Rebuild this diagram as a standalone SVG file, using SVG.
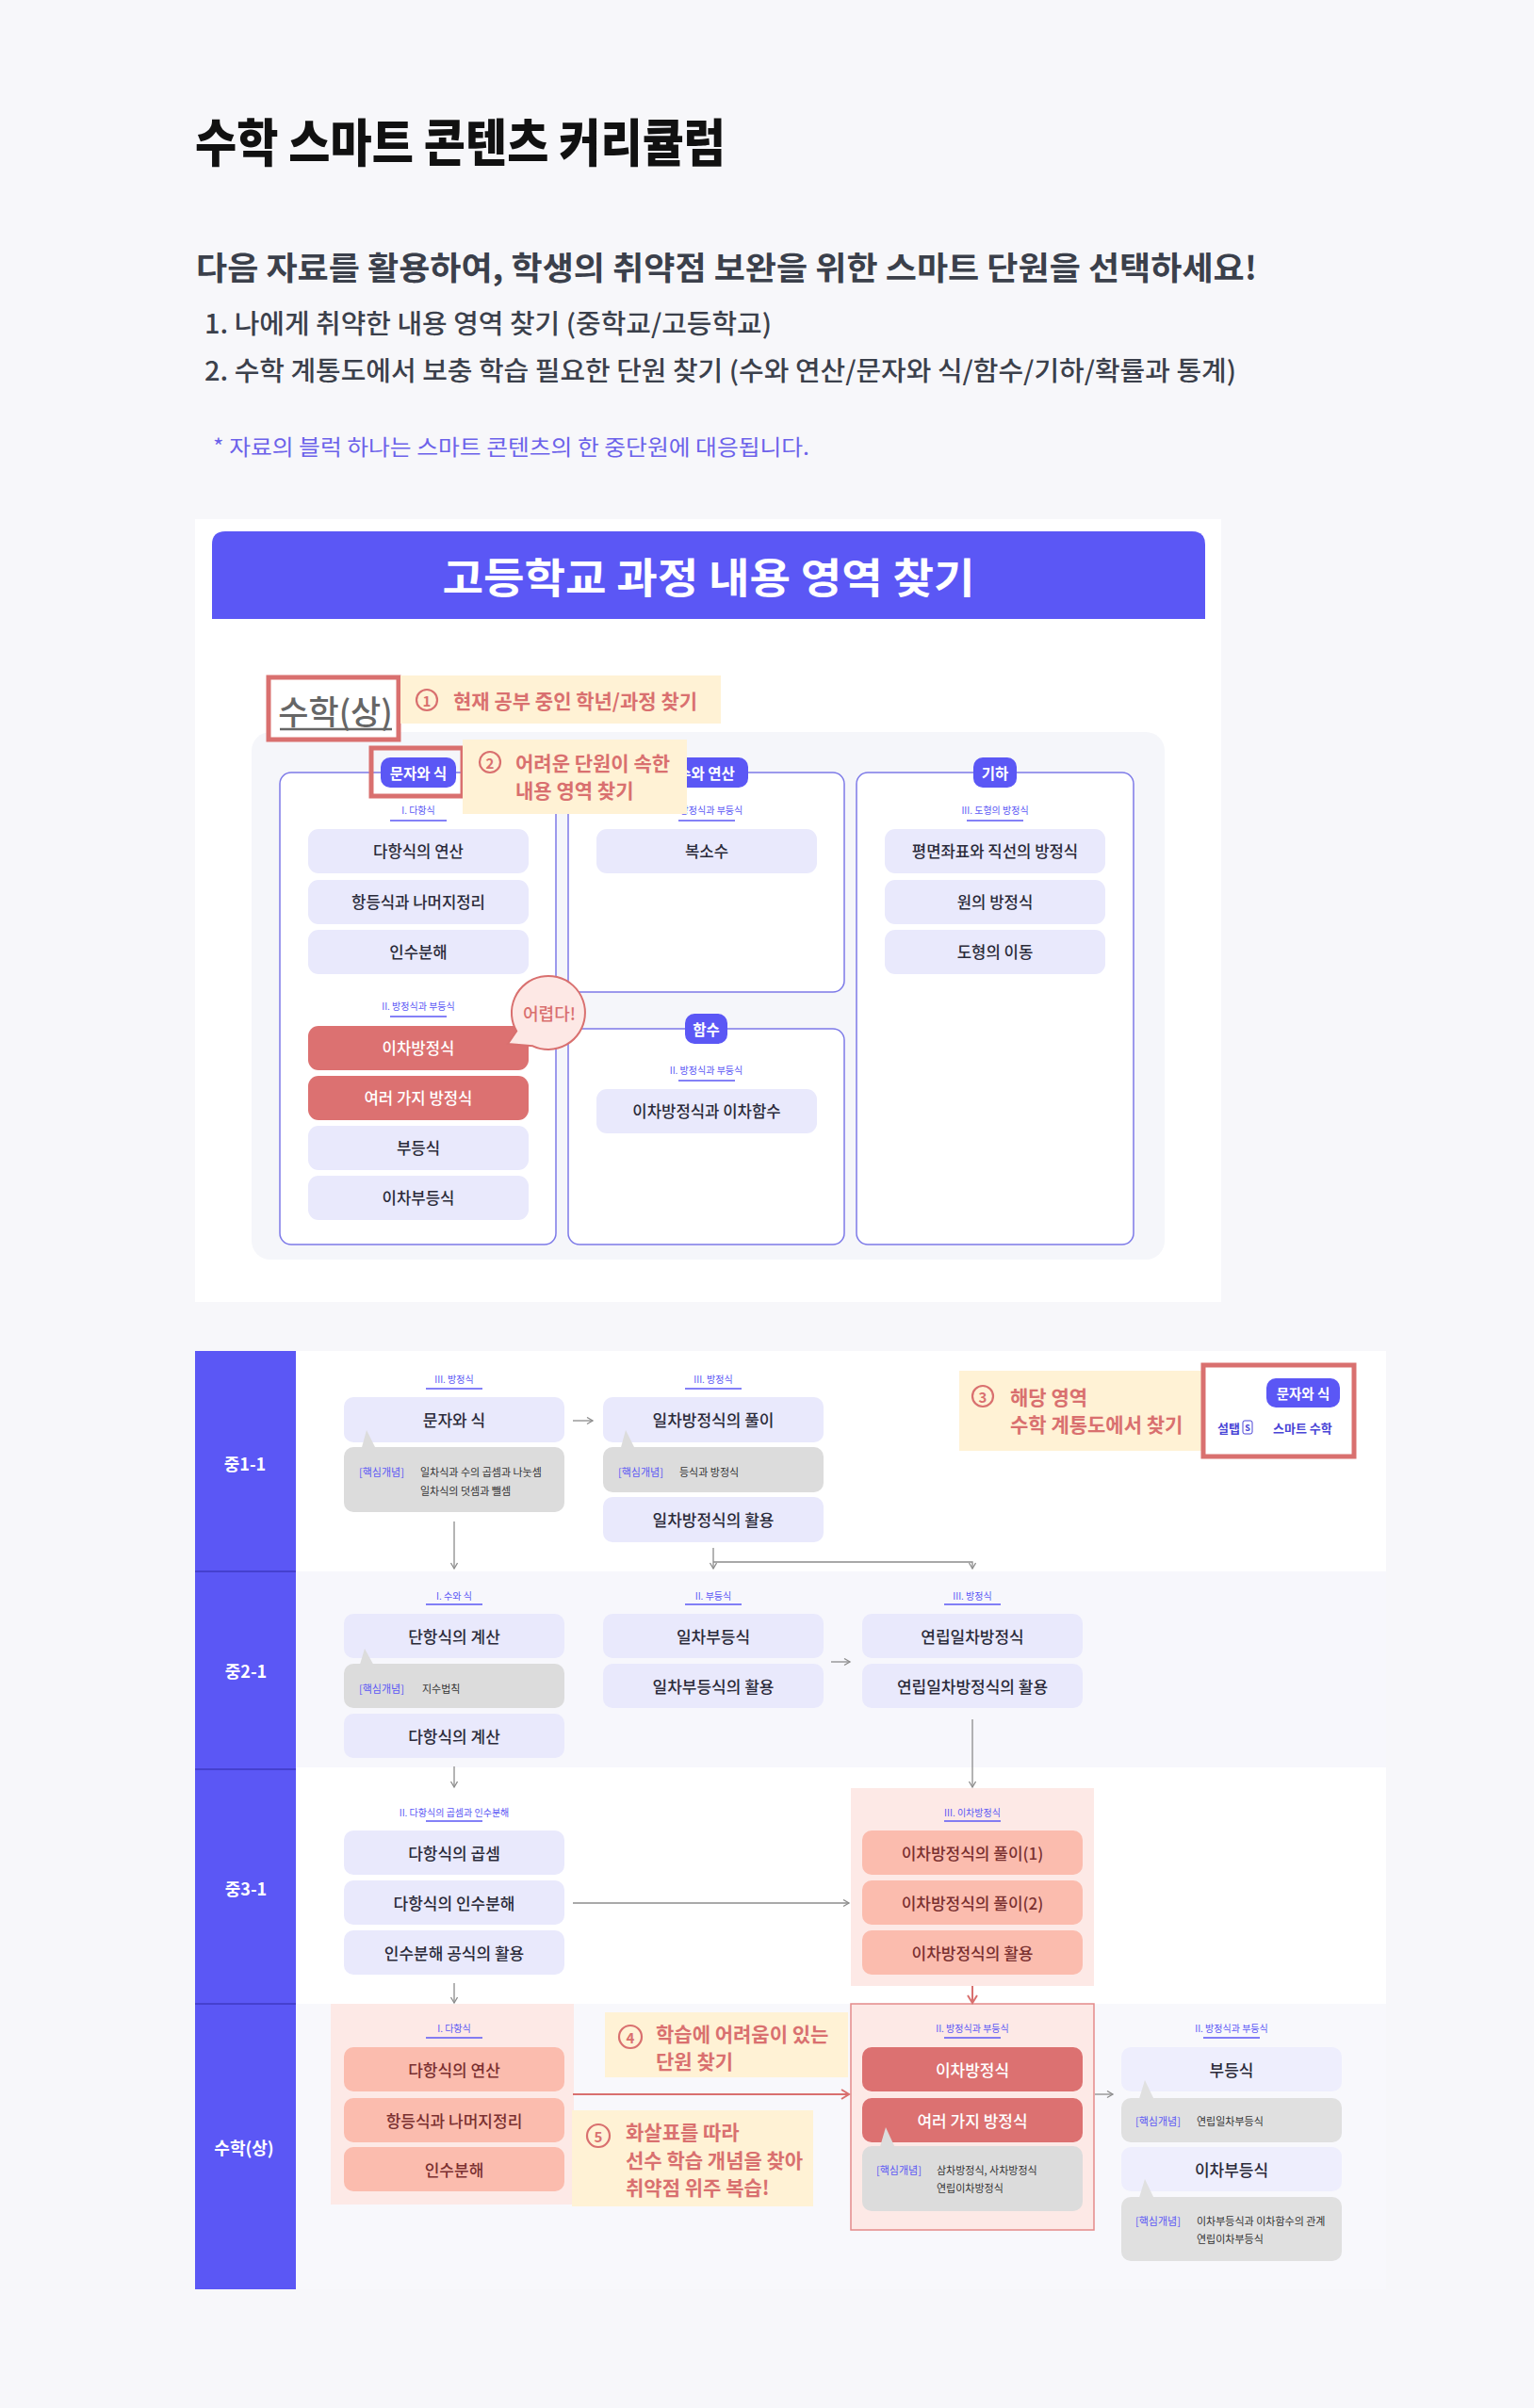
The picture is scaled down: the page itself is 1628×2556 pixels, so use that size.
<svg xmlns="http://www.w3.org/2000/svg" width="1628" height="2556" viewBox="0 0 1628 2556">
<defs>
<style>
text{font-family:"Noto Sans CJK KR","Noto Sans",sans-serif;}
.it{fill:#e9e9fc}
.itd{fill:#eeeefd}
.red{fill:#dc7171}
.sal{fill:#fbbcae}
.gr{fill:#dcdcdc}
.grd{fill:#e0e0e0}
.cream{fill:#fff2d5}
.tx{font-size:17px;fill:#2b2b3a;text-anchor:middle;dominant-baseline:central;font-weight:500}
.txh{font-size:16.7px;fill:#2b2b3a;text-anchor:middle;dominant-baseline:central;font-weight:500}
.txw{fill:#ffffff}
.txs{fill:#7a3030}
.sub{font-size:10px;fill:#5b57f5;text-anchor:middle;dominant-baseline:central}
.ul{stroke:#5b57f5;stroke-width:1.5}
.kc{font-size:11px;fill:#5b57f5;dominant-baseline:central}
.kt{font-size:11px;fill:#333333;dominant-baseline:central}
.col{fill:#ffffff;stroke:#7d7ae8;stroke-width:1.5}
.pill{fill:#5b57f5}
.pt{font-size:15.5px;fill:#ffffff;font-weight:700;text-anchor:middle;dominant-baseline:central}
.co{font-size:21px;fill:#d9706f;font-weight:600;dominant-baseline:central}
.num{fill:none;stroke:#d9706f;stroke-width:2.2}
.numt{font-size:15px;fill:#d9706f;font-weight:600;text-anchor:middle;dominant-baseline:central}
.hl{fill:none;stroke:#d9706f;stroke-width:5}
.cn{fill:none;stroke:#8c8c8c;stroke-width:1.3}
.cnr{fill:none;stroke:#d9706f;stroke-width:2}
.lab{font-size:18px;fill:#ffffff;font-weight:700;text-anchor:middle;dominant-baseline:central}
</style>
<marker id="ag" markerWidth="10" markerHeight="10" refX="7" refY="4" orient="auto" markerUnits="userSpaceOnUse"><path d="M1,0.5 L7,4 L1,7.5" fill="none" stroke="#8c8c8c" stroke-width="1.3"/></marker>
<marker id="ar" markerWidth="14" markerHeight="14" refX="9" refY="6" orient="auto" markerUnits="userSpaceOnUse"><path d="M1,1 L9,6 L1,11" fill="none" stroke="#d9706f" stroke-width="2"/></marker>
</defs>

<rect x="0" y="0" width="1628" height="2556" fill="#f7f7fa"/>

<!-- Header texts -->
<g id="header">
<text x="207" y="148" font-size="54" font-weight="900" fill="#111111" dominant-baseline="central" textLength="563" lengthAdjust="spacingAndGlyphs">수학 스마트 콘텐츠 커리큘럼</text>
<text x="208" y="282" font-size="34" font-weight="700" fill="#3b404b" dominant-baseline="central" textLength="1126" lengthAdjust="spacingAndGlyphs">다음 자료를 활용하여, 학생의 취약점 보완을 위한 스마트 단원을 선택하세요!</text>
<text x="217" y="342" font-size="28" font-weight="500" fill="#3b404b" dominant-baseline="central" textLength="602" lengthAdjust="spacingAndGlyphs">1. 나에게 취약한 내용 영역 찾기 (중학교/고등학교)</text>
<text x="217" y="392" font-size="28" font-weight="500" fill="#3b404b" dominant-baseline="central" textLength="1095" lengthAdjust="spacingAndGlyphs">2. 수학 계통도에서 보충 학습 필요한 단원 찾기 (수와 연산/문자와 식/함수/기하/확률과 통계)</text>
<text x="226" y="473" font-size="23" font-weight="400" fill="#6c62ea" dominant-baseline="central" textLength="633" lengthAdjust="spacingAndGlyphs">* 자료의 블럭 하나는 스마트 콘텐츠의 한 중단원에 대응됩니다.</text>
</g>

<!-- High school card -->
<g id="hs-card">
<rect x="207" y="551" width="1089" height="831" fill="#ffffff"/>
<path d="M225,657 L225,578 Q225,564 239,564 L1265,564 Q1279,564 1279,578 L1279,657 Z" fill="#5b57f5"/>
<text x="752" y="611" font-size="44" font-weight="700" fill="#ffffff" text-anchor="middle" dominant-baseline="central" textLength="565" lengthAdjust="spacingAndGlyphs">고등학교 과정 내용 영역 찾기</text>
<rect x="267" y="777" width="969" height="560" rx="20" fill="#f5f6fa"/>
</g>

<g id="hs-grade">
<rect x="285" y="719" width="138" height="66" fill="#ffffff"/>
<rect x="285" y="719" width="138" height="66" class="hl"/>
<text x="356" y="753" font-size="35" font-weight="500" fill="#666666" text-anchor="middle" dominant-baseline="central">수학(상)</text>
<line x1="297" y1="774" x2="416" y2="774" stroke="#666666" stroke-width="2.5"/>
</g>

<g id="callout1">
<rect x="425" y="717" width="340" height="51" class="cream"/>
<circle cx="453" cy="743" r="11" class="num"/>
<text x="453" y="743" class="numt">1</text>
<text x="481" y="743" class="co">현재 공부 중인 학년/과정 찾기</text>
</g>

<!-- Column 1: 문자와 식 -->
<g id="hs-col1">
<rect x="297" y="820" width="293" height="501" rx="12" class="col"/>
<rect x="404" y="804" width="80" height="32" rx="10" class="pill"/>
<text x="444" y="820" class="pt">문자와 식</text>
<text x="444" y="859" class="sub">I. 다항식</text>
<line x1="414" y1="871" x2="474" y2="871" class="ul"/>
<rect x="327" y="880" width="234" height="47" rx="11" class="it"/>
<text x="444" y="903" class="txh">다항식의 연산</text>
<rect x="327" y="934" width="234" height="47" rx="11" class="it"/>
<text x="444" y="957" class="txh">항등식과 나머지정리</text>
<rect x="327" y="987" width="234" height="47" rx="11" class="it"/>
<text x="444" y="1010" class="txh">인수분해</text>
<text x="444" y="1067" class="sub">II. 방정식과 부등식</text>
<line x1="414" y1="1079" x2="474" y2="1079" class="ul"/>
<rect x="327" y="1089" width="234" height="47" rx="11" class="red"/>
<text x="444" y="1112" class="txh txw">이차방정식</text>
<rect x="327" y="1142" width="234" height="47" rx="11" class="red"/>
<text x="444" y="1165" class="txh txw">여러 가지 방정식</text>
<rect x="327" y="1195" width="234" height="47" rx="11" class="it"/>
<text x="444" y="1218" class="txh">부등식</text>
<rect x="327" y="1248" width="234" height="47" rx="11" class="it"/>
<text x="444" y="1271" class="txh">이차부등식</text>
</g>

<!-- Column 2 top: 수와 연산 -->
<g id="hs-col2">
<rect x="603" y="820" width="293" height="233" rx="12" class="col"/>
<rect x="705" y="804" width="89" height="32" rx="10" class="pill"/>
<text x="749.5" y="820" class="pt">수와 연산</text>
<text x="749.5" y="859" class="sub">II. 방정식과 부등식</text>
<line x1="720" y1="871" x2="780" y2="871" class="ul"/>
<rect x="633" y="880" width="234" height="47" rx="11" class="it"/>
<text x="750" y="903" class="txh">복소수</text>
</g>

<!-- Column 2 bottom: 함수 -->
<g id="hs-col2b">
<rect x="603" y="1092" width="293" height="229" rx="12" class="col"/>
<rect x="727" y="1076" width="45" height="32" rx="10" class="pill"/>
<text x="749.5" y="1092" class="pt">함수</text>
<text x="749.5" y="1135" class="sub">II. 방정식과 부등식</text>
<line x1="720" y1="1147" x2="780" y2="1147" class="ul"/>
<rect x="633" y="1156" width="234" height="47" rx="11" class="it"/>
<text x="750" y="1179" class="txh">이차방정식과 이차함수</text>
</g>

<!-- Column 3: 기하 -->
<g id="hs-col3">
<rect x="909" y="820" width="294" height="501" rx="12" class="col"/>
<rect x="1033" y="804" width="46" height="32" rx="10" class="pill"/>
<text x="1056" y="820" class="pt">기하</text>
<text x="1056" y="859" class="sub">III. 도형의 방정식</text>
<line x1="1026" y1="871" x2="1086" y2="871" class="ul"/>
<rect x="939" y="880" width="234" height="47" rx="11" class="it"/>
<text x="1056" y="903" class="txh">평면좌표와 직선의 방정식</text>
<rect x="939" y="934" width="234" height="47" rx="11" class="it"/>
<text x="1056" y="957" class="txh">원의 방정식</text>
<rect x="939" y="987" width="234" height="47" rx="11" class="it"/>
<text x="1056" y="1010" class="txh">도형의 이동</text>
</g>

<g id="hs-highlight-area">
<rect x="394" y="794" width="97" height="51" class="hl"/>
</g>

<g id="callout2">
<rect x="491" y="785" width="238" height="79" class="cream"/>
<circle cx="520" cy="809" r="11" class="num"/>
<text x="520" y="809" class="numt">2</text>
<text x="547" y="809" class="co">어려운 단원이 속한</text>
<text x="547" y="838" class="co">내용 영역 찾기</text>
</g>

<g id="bubble">
<path d="M565.5,1110.3 L539,1108 L548.2,1094.5 A39,39 0 1 1 565.5,1110.3 Z" fill="#fde8e5" stroke="#d9706f" stroke-width="2"/>
<text x="583" y="1075" font-size="18" font-weight="500" fill="#d9706f" text-anchor="middle" dominant-baseline="central">어렵다!</text>
</g>

<!-- Flow chart -->
<g id="flow-bg">
<rect x="207" y="1434" width="1264" height="996" fill="#ffffff"/>
<rect x="314" y="1668" width="1157" height="208" fill="#f7f7fc"/>
<rect x="314" y="2127" width="1157" height="303" fill="#f8f8fc"/>
<rect x="207" y="1434" width="107" height="996" fill="#5b57f5"/>
<line x1="207" y1="1668" x2="314" y2="1668" stroke="#4540cf" stroke-width="2"/>
<line x1="207" y1="1878" x2="314" y2="1878" stroke="#4540cf" stroke-width="2"/>
<line x1="207" y1="2127" x2="314" y2="2127" stroke="#4540cf" stroke-width="2"/>
<text x="260" y="1553" class="lab">중1-1</text>
<text x="261" y="1773" class="lab">중2-1</text>
<text x="261" y="2004" class="lab">중3-1</text>
<text x="259" y="2279" class="lab">수학(상)</text>
</g>

<!-- pink panels -->
<g id="panels">
<rect x="903" y="1898" width="258" height="210" fill="#fde9e6"/>
<rect x="351" y="2127" width="258" height="213" fill="#fde9e6"/>
<rect x="903" y="2127" width="258" height="240" fill="#fde9e6" stroke="#e48a8a" stroke-width="1.5"/>
</g>

<!-- Row 중1-1 -->
<g id="n11-a">
<text x="482" y="1463" class="sub">III. 방정식</text>
<line x1="452" y1="1474" x2="512" y2="1474" class="ul"/>
<rect x="365" y="1483" width="234" height="48" rx="10" class="it"/>
<text x="482" y="1506" class="tx">문자와 식</text>
<rect x="365" y="1536" width="234" height="69" rx="10" class="gr"/>
<polygon points="383,1540 389,1518 400,1540" class="gr"/>
<text x="381" y="1562" class="kc">[핵심개념]</text>
<text x="446" y="1562" class="kt">일차식과 수의 곱셈과 나눗셈</text>
<text x="446" y="1582" class="kt">일차식의 덧셈과 뺄셈</text>
</g>
<g id="n11-b">
<text x="757" y="1463" class="sub">III. 방정식</text>
<line x1="727" y1="1474" x2="787" y2="1474" class="ul"/>
<rect x="640" y="1483" width="234" height="48" rx="10" class="it"/>
<text x="757" y="1506" class="tx">일차방정식의 풀이</text>
<rect x="640" y="1536" width="234" height="48" rx="10" class="gr"/>
<polygon points="658,1540 664,1518 675,1540" class="gr"/>
<text x="656" y="1562" class="kc">[핵심개념]</text>
<text x="721" y="1562" class="kt">등식과 방정식</text>
<rect x="640" y="1589" width="234" height="48" rx="10" class="it"/>
<text x="757" y="1612" class="tx">일차방정식의 활용</text>
</g>

<g id="callout3">
<rect x="1018" y="1455" width="259" height="85" class="cream"/>
<circle cx="1043" cy="1482" r="11" class="num"/>
<text x="1043" y="1482" class="numt">3</text>
<text x="1072" y="1482" class="co">해당 영역</text>
<text x="1072" y="1511" class="co">수학 계통도에서 찾기</text>
</g>

<g id="smart-box">
<rect x="1277" y="1449" width="160" height="97" fill="#ffffff"/>
<rect x="1277" y="1449" width="160" height="97" class="hl"/>
<rect x="1344" y="1463" width="78" height="31" rx="10" class="pill"/>
<text x="1383" y="1478.5" class="pt" style="font-size:14.5px">문자와 식</text>
<text x="1292" y="1515" font-size="13" font-weight="700" fill="#4a45d6" dominant-baseline="central">설탭</text>
<rect x="1319" y="1508" width="10" height="14" rx="2" fill="none" stroke="#4a45d6" stroke-width="1"/>
<text x="1324" y="1515.5" font-size="9" font-weight="700" fill="#4a45d6" text-anchor="middle" dominant-baseline="central">S</text>
<text x="1351" y="1515" font-size="13" font-weight="700" fill="#4a45d6" dominant-baseline="central">스마트 수학</text>
</g>

<!-- Row 중2-1 -->
<g id="n21-a">
<text x="482" y="1693" class="sub">I. 수와 식</text>
<line x1="452" y1="1703" x2="512" y2="1703" class="ul"/>
<rect x="365" y="1713" width="234" height="47" rx="10" class="it"/>
<text x="482" y="1736" class="tx">단항식의 계산</text>
<rect x="365" y="1766" width="234" height="47" rx="10" class="gr"/>
<polygon points="381,1770 387,1750 398,1770" class="gr"/>
<text x="381" y="1792" class="kc">[핵심개념]</text>
<text x="448" y="1792" class="kt">지수법칙</text>
<rect x="365" y="1819" width="234" height="47" rx="10" class="it"/>
<text x="482" y="1842" class="tx">다항식의 계산</text>
</g>
<g id="n21-b">
<text x="757" y="1693" class="sub">II. 부등식</text>
<line x1="727" y1="1703" x2="787" y2="1703" class="ul"/>
<rect x="640" y="1713" width="234" height="47" rx="10" class="it"/>
<text x="757" y="1736" class="tx">일차부등식</text>
<rect x="640" y="1766" width="234" height="47" rx="10" class="it"/>
<text x="757" y="1789" class="tx">일차부등식의 활용</text>
</g>
<g id="n21-c">
<text x="1032" y="1693" class="sub">III. 방정식</text>
<line x1="1002" y1="1703" x2="1062" y2="1703" class="ul"/>
<rect x="915" y="1713" width="234" height="47" rx="10" class="it"/>
<text x="1032" y="1736" class="tx">연립일차방정식</text>
<rect x="915" y="1766" width="234" height="47" rx="10" class="it"/>
<text x="1032" y="1789" class="tx">연립일차방정식의 활용</text>
</g>

<!-- Row 중3-1 -->
<g id="n31-a">
<text x="482" y="1923" class="sub">II. 다항식의 곱셈과 인수분해</text>
<line x1="452" y1="1933" x2="512" y2="1933" class="ul"/>
<rect x="365" y="1943" width="234" height="47" rx="10" class="it"/>
<text x="482" y="1966" class="tx">다항식의 곱셈</text>
<rect x="365" y="1996" width="234" height="47" rx="10" class="it"/>
<text x="482" y="2019" class="tx">다항식의 인수분해</text>
<rect x="365" y="2049" width="234" height="47" rx="10" class="it"/>
<text x="482" y="2072" class="tx">인수분해 공식의 활용</text>
</g>
<g id="n31-c">
<text x="1032" y="1923" class="sub">III. 이차방정식</text>
<line x1="1002" y1="1933" x2="1062" y2="1933" class="ul"/>
<rect x="915" y="1943" width="234" height="47" rx="10" class="sal"/>
<text x="1032" y="1966" class="tx txs">이차방정식의 풀이(1)</text>
<rect x="915" y="1996" width="234" height="47" rx="10" class="sal"/>
<text x="1032" y="2019" class="tx txs">이차방정식의 풀이(2)</text>
<rect x="915" y="2049" width="234" height="47" rx="10" class="sal"/>
<text x="1032" y="2072" class="tx txs">이차방정식의 활용</text>
</g>

<!-- Row 수학(상) -->
<g id="hs-a">
<text x="482" y="2152" class="sub">I. 다항식</text>
<line x1="452" y1="2163" x2="512" y2="2163" class="ul"/>
<rect x="365" y="2173" width="234" height="47" rx="10" class="sal"/>
<text x="482" y="2196" class="tx txs">다항식의 연산</text>
<rect x="365" y="2227" width="234" height="47" rx="10" class="sal"/>
<text x="482" y="2250" class="tx txs">항등식과 나머지정리</text>
<rect x="365" y="2279" width="234" height="47" rx="10" class="sal"/>
<text x="482" y="2302" class="tx txs">인수분해</text>
</g>
<g id="hs-c">
<text x="1032" y="2152" class="sub">II. 방정식과 부등식</text>
<line x1="1002" y1="2163" x2="1062" y2="2163" class="ul"/>
<rect x="915" y="2173" width="234" height="47" rx="10" class="red"/>
<text x="1032" y="2196" class="tx txw">이차방정식</text>
<rect x="915" y="2227" width="234" height="47" rx="10" class="red"/>
<text x="1032" y="2250" class="tx txw">여러 가지 방정식</text>
<rect x="915" y="2278" width="234" height="69" rx="10" class="gr"/>
<polygon points="933,2282 940,2258 951,2282" class="gr"/>
<text x="930" y="2303" class="kc">[핵심개념]</text>
<text x="994" y="2303" class="kt">삼차방정식, 사차방정식</text>
<text x="994" y="2322" class="kt">연립이차방정식</text>
</g>
<g id="hs-d">
<text x="1307" y="2152" class="sub">II. 방정식과 부등식</text>
<line x1="1277" y1="2163" x2="1337" y2="2163" class="ul"/>
<rect x="1190" y="2173" width="234" height="47" rx="10" class="itd"/>
<text x="1307" y="2196" class="tx">부등식</text>
<rect x="1190" y="2227" width="234" height="47" rx="10" class="grd"/>
<polygon points="1208,2231 1215,2208 1226,2231" class="grd"/>
<text x="1205" y="2251" class="kc">[핵심개념]</text>
<text x="1270" y="2251" class="kt">연립일차부등식</text>
<rect x="1190" y="2279" width="234" height="47" rx="10" class="itd"/>
<text x="1307" y="2302" class="tx">이차부등식</text>
<rect x="1190" y="2332" width="234" height="68" rx="10" class="grd"/>
<polygon points="1208,2336 1215,2313 1226,2336" class="grd"/>
<text x="1205" y="2357" class="kc">[핵심개념]</text>
<text x="1270" y="2357" class="kt">이차부등식과 이차함수의 관계</text>
<text x="1270" y="2376" class="kt">연립이차부등식</text>
</g>

<g id="callout4">
<rect x="642" y="2136" width="258" height="69" class="cream"/>
<circle cx="669" cy="2162" r="12" class="num"/>
<text x="669" y="2162" class="numt">4</text>
<text x="696" y="2158" class="co">학습에 어려움이 있는</text>
<text x="696" y="2187" class="co">단원 찾기</text>
</g>

<g id="callout5">
<rect x="607" y="2240" width="256" height="102" class="cream"/>
<circle cx="635" cy="2267" r="12" class="num"/>
<text x="635" y="2267" class="numt">5</text>
<text x="664" y="2262" class="co">화살표를 따라</text>
<text x="664" y="2292" class="co">선수 학습 개념을 찾아</text>
<text x="664" y="2321" class="co">취약점 위주 복습!</text>
</g>

<!-- Connectors -->
<g id="connectors">
<line x1="608" y1="1508" x2="629" y2="1508" class="cn" marker-end="url(#ag)"/>
<line x1="482" y1="1615" x2="482" y2="1665" class="cn" marker-end="url(#ag)"/>
<line x1="757" y1="1643" x2="757" y2="1665" class="cn" marker-end="url(#ag)"/>
<polyline points="757,1658 1032,1658 1032,1665" class="cn" marker-end="url(#ag)"/>
<line x1="882" y1="1764" x2="902" y2="1764" class="cn" marker-end="url(#ag)"/>
<line x1="482" y1="1875" x2="482" y2="1897" class="cn" marker-end="url(#ag)"/>
<line x1="1032" y1="1825" x2="1032" y2="1897" class="cn" marker-end="url(#ag)"/>
<line x1="608" y1="2020" x2="901" y2="2020" class="cn" marker-end="url(#ag)"/>
<line x1="482" y1="2105" x2="482" y2="2126" class="cn" marker-end="url(#ag)"/>
<line x1="1032" y1="2108" x2="1032" y2="2126" class="cnr" marker-end="url(#ar)"/>
<line x1="608" y1="2223" x2="901" y2="2223" class="cnr" marker-end="url(#ar)"/>
<line x1="1162" y1="2223" x2="1181" y2="2223" class="cn" marker-end="url(#ag)"/>
</g>
</svg>
